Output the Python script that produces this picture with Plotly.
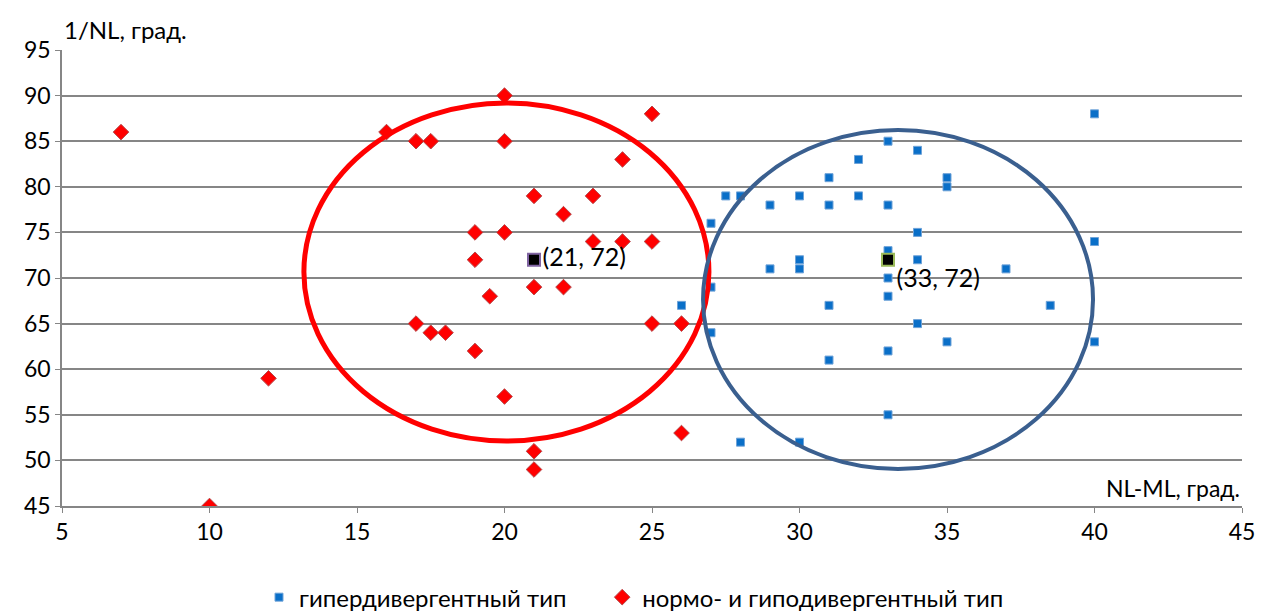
import plotly.graph_objects as go

# гипердивергентный тип (blue squares)
hyper_x = [40, 33, 34, 32, 31, 35, 35, 27.5, 28, 30, 32, 29, 31, 33, 27, 34, 40, 33, 34, 30,
           30, 29, 37, 33, 27, 33, 26, 31, 38.5, 34, 27, 35, 40, 33, 31, 33, 28, 30]
hyper_y = [88, 85, 84, 83, 81, 81, 80, 79, 79, 79, 79, 78, 78, 78, 76, 75, 74, 73, 72, 72,
           71, 71, 71, 70, 69, 68, 67, 67, 67, 65, 64, 63, 63, 62, 61, 55, 52, 52]

# нормо- и гиподивергентный тип (red diamonds)
normo_x = [7, 10, 12, 16, 17, 17.5, 20, 20, 25, 24, 21, 23, 22, 19, 20, 23, 24, 25, 19, 21,
           22, 19.5, 17, 17.5, 18, 19, 25, 26, 20, 26, 21, 21]
normo_y = [86, 45, 59, 86, 85, 85, 90, 85, 88, 83, 79, 79, 77, 75, 75, 74, 74, 74, 72, 69,
           69, 68, 65, 64, 64, 62, 65, 65, 57, 53, 51, 49]

# centroids
centroid_normo = (21, 72)
centroid_hyper = (33, 72)

# ellipse extents in data units (x0, x1, y0, y1)
ellipse_normo = (13.2, 26.93, 52.13, 89.19)
ellipse_hyper = (26.73, 39.95, 49.06, 86.23)

x_ticks = [5, 10, 15, 20, 25, 30, 35, 40, 45]
y_ticks = [45, 50, 55, 60, 65, 70, 75, 80, 85, 90, 95]

FONT = "Lato, 'Open Sans', sans-serif"
NBSP = "\u00a0"

fig = go.Figure()

fig.add_trace(go.Scatter(
    x=hyper_x, y=hyper_y, mode="markers", name="гипердивергентный тип" + NBSP * 5,
    marker=dict(symbol="square", size=8, color="#0a6fc8",
                line=dict(color="#6fa3d8", width=1)),
))
fig.add_trace(go.Scatter(
    x=normo_x, y=normo_y, mode="markers", name="нормо- и гиподивергентный тип",
    marker=dict(symbol="diamond", size=12, color="#ff0000",
                line=dict(color="#b5484a", width=1)),
))
fig.add_trace(go.Scatter(
    x=[centroid_normo[0]], y=[centroid_normo[1]], mode="markers+text",
    text=["(%d, %d)" % centroid_normo], textposition="middle right",
    textfont=dict(size=25, color="#000000", family=FONT),
    marker=dict(symbol="square", size=12, color="#000000",
                line=dict(color="#8064a2", width=2)),
    showlegend=False,
))
fig.add_trace(go.Scatter(
    x=[centroid_hyper[0]], y=[centroid_hyper[1]], mode="markers+text",
    text=["(%d, %d)" % centroid_hyper], textposition="bottom right",
    textfont=dict(size=25, color="#000000", family=FONT),
    marker=dict(symbol="square", size=12, color="#000000",
                line=dict(color="#9bbb59", width=2)),
    showlegend=False,
))

fig.add_shape(type="circle", xref="x", yref="y",
              x0=ellipse_normo[0], x1=ellipse_normo[1], y0=ellipse_normo[2], y1=ellipse_normo[3],
              line=dict(color="#ff0000", width=5), layer="above")
fig.add_shape(type="circle", xref="x", yref="y",
              x0=ellipse_hyper[0], x1=ellipse_hyper[1], y0=ellipse_hyper[2], y1=ellipse_hyper[3],
              line=dict(color="#3a5f8f", width=4), layer="above")

fig.update_layout(
    width=1268, height=611,
    margin=dict(l=62, r=26, t=50, b=105, autoexpand=False),
    paper_bgcolor="white", plot_bgcolor="white",
    font=dict(family=FONT, size=23, color="#000000"),
    xaxis=dict(range=[5, 45], tickvals=x_ticks, showgrid=False, zeroline=False,
               showline=True, linecolor="#868686", linewidth=1.5,
               ticks="outside", ticklen=5, tickcolor="#868686",
               tickfont=dict(size=23), automargin=False),
    yaxis=dict(range=[45, 95], tickvals=y_ticks, showgrid=True, gridcolor="#868686",
               gridwidth=1.5, zeroline=False, showline=True, linecolor="#868686",
               linewidth=1.5, ticks="outside", ticklen=5, tickcolor="#868686",
               tickfont=dict(size=23), automargin=False),
    legend=dict(orientation="h", x=0.5, xanchor="center", xref="container",
                y=0.022, yanchor="middle", yref="container",
                font=dict(size=24), itemsizing="trace", itemwidth=30),
    annotations=[
        dict(text="1/NL, град.", xref="paper", yref="paper", x=0, y=1.0,
             xanchor="left", yanchor="bottom", yshift=4, showarrow=False,
             font=dict(size=24)),
        dict(text="NL-ML, град.", xref="paper", yref="paper", x=1, y=0,
             xanchor="right", yanchor="bottom", yshift=2, showarrow=False,
             font=dict(size=23)),
    ],
)

fig.write_html("out.html", config={"displayModeBar": False},
               post_script="document.body.style.margin='0';document.body.style.overflow='hidden';")
